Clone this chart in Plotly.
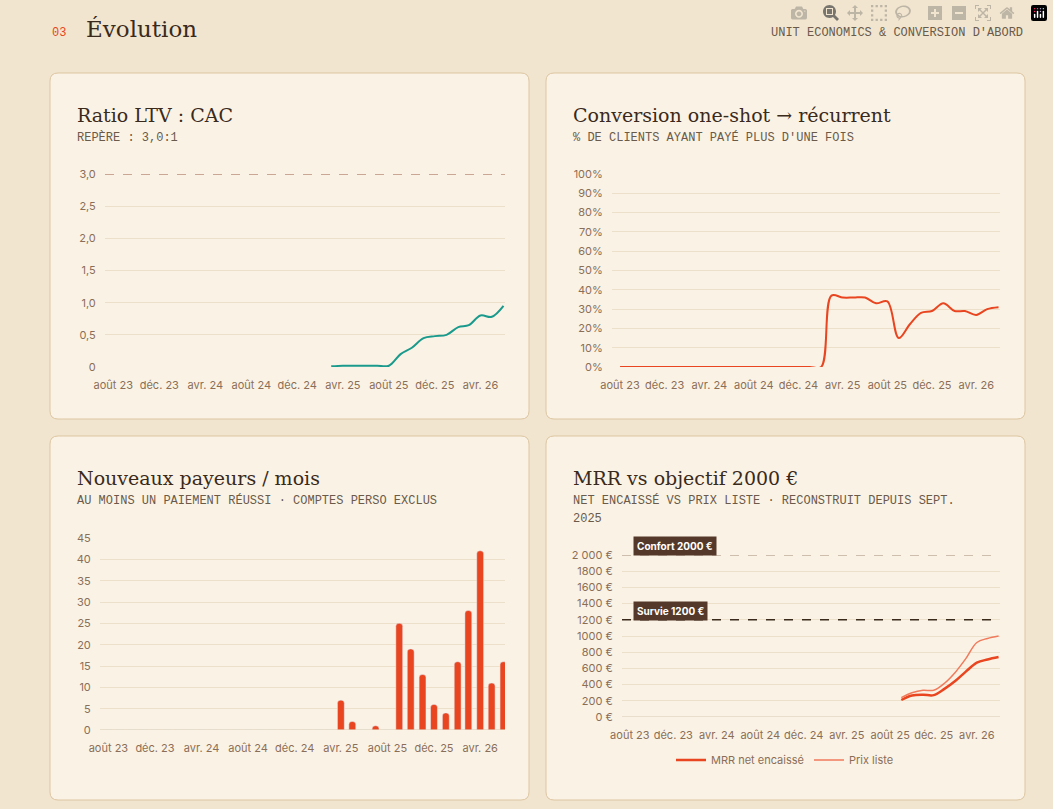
import plotly.graph_objects as go

W, H = 1053, 809

months = ["2023-08-01", "2023-09-01", "2023-10-01", "2023-11-01", "2023-12-01", "2024-01-01",
          "2024-02-01", "2024-03-01", "2024-04-01", "2024-05-01", "2024-06-01", "2024-07-01",
          "2024-08-01", "2024-09-01", "2024-10-01", "2024-11-01", "2024-12-01", "2025-01-01",
          "2025-02-01", "2025-03-01", "2025-04-01", "2025-05-01", "2025-06-01", "2025-07-01",
          "2025-08-01", "2025-09-01", "2025-10-01", "2025-11-01", "2025-12-01", "2026-01-01",
          "2026-02-01", "2026-03-01", "2026-04-01", "2026-05-01", "2026-06-01"]
tick_vals = ["2023-08-01", "2023-12-01", "2024-04-01", "2024-08-01", "2024-12-01",
             "2025-04-01", "2025-08-01", "2025-12-01", "2026-04-01"]
tick_text = ["août 23", "déc. 23", "avr. 24", "août 24", "déc. 24",
             "avr. 25", "août 25", "déc. 25", "avr. 26"]

ltv_months = months[19:]
ltv_ratio = [0.01, 0.02, 0.02, 0.02, 0.02, 0.02, 0.2, 0.3, 0.45, 0.48, 0.5, 0.62, 0.65, 0.8, 0.78, 0.95]

conv_rate = [0] * 18 + [0, 37, 36, 36, 36, 33, 34, 15, 22, 28, 29, 33, 29, 29, 27, 30, 31]

new_payers = [0] * 20 + [7, 2, 0, 1, 0, 25, 19, 13, 6, 4, 16, 28, 42, 11, 16]

mrr_months = months[25:]
mrr_net = [210, 265, 275, 270, 350, 450, 560, 670, 710, 740]
mrr_list = [240, 300, 330, 330, 420, 560, 720, 920, 970, 1000]

BG = "#f1e5cf"
CARD = "#faf3e5"
BORDER = "#dcc5a1"
DARK = "#3a2a1c"
TXT = "#8a6e58"
SUB = "#6a5a4a"
GRID = "#ece0cb"
RED = "#e84520"
SALMON = "#f07a5c"
TEAL = "#1a9a8c"
SERIF = "DejaVu Serif, serif"
MONO = "Liberation Mono, DejaVu Sans Mono, monospace"
SANS = "Inter, Noto Sans, sans-serif"


def px(x):
    return x / W


def py(y):
    return 1 - y / H


def card_path(x0, y0, x1, y1, r=8):
    a0, b0, a1, b1 = px(x0), py(y0), px(x1), py(y1)
    rx, ry = r / W, r / H
    return (f"M{a0 + rx},{b0} L{a1 - rx},{b0} Q{a1},{b0} {a1},{b0 - ry} "
            f"L{a1},{b1 + ry} Q{a1},{b1} {a1 - rx},{b1} L{a0 + rx},{b1} "
            f"Q{a0},{b1} {a0},{b1 + ry} L{a0},{b0 - ry} Q{a0},{b0} {a0 + rx},{b0} Z")


fig = go.Figure()

fig.add_trace(go.Scatter(x=ltv_months, y=ltv_ratio, mode="lines", line=dict(color=TEAL, width=2, shape="spline"),
                         xaxis="x", yaxis="y", showlegend=False))
fig.add_trace(go.Scatter(x=months, y=conv_rate, mode="lines", line=dict(color=RED, width=2, shape="spline"),
                         xaxis="x2", yaxis="y2", showlegend=False))
fig.add_trace(go.Bar(x=months, y=new_payers, marker=dict(color=RED, cornerradius=3), width=18 * 24 * 3600 * 1000,
                     xaxis="x3", yaxis="y3", showlegend=False))
fig.add_trace(go.Scatter(x=mrr_months, y=mrr_net, mode="lines", name="MRR net encaissé",
                         line=dict(color=RED, width=2.5, shape="spline"), xaxis="x4", yaxis="y4"))
fig.add_trace(go.Scatter(x=mrr_months, y=mrr_list, mode="lines", name="Prix liste",
                         line=dict(color=SALMON, width=1.5, shape="spline"), xaxis="x4", yaxis="y4"))

xr = ["2023-07-10", "2026-06-05"]
xbase = dict(type="date", range=xr, tickvals=tick_vals, ticktext=tick_text, showgrid=False, automargin=False,
             tickfont=dict(family=SANS, size=11, color=TXT), ticks="outside", ticklen=8,
             tickcolor="rgba(0,0,0,0)", zeroline=False)
ybase = dict(gridcolor=GRID, tickfont=dict(family=SANS, size=11, color=TXT), zeroline=False, automargin=False,
             ticks="outside", ticklen=6, tickcolor="rgba(0,0,0,0)")

panels = {
    "": ((105, 505), (174, 367)),
    "2": ((612, 1000), (174, 367)),
    "3": ((100, 505), (538, 730)),
    "4": ((622, 1000), (555, 717)),
}
layout_axes = {}
for k, ((x0, x1), (y0, y1)) in panels.items():
    layout_axes["xaxis" + k] = dict(xbase, domain=[px(x0), px(x1)], anchor="y" + k)
    layout_axes["yaxis" + k] = dict(ybase, domain=[py(y1), py(y0)], anchor="x" + k)

layout_axes["yaxis"].update(range=[0, 3.0], tickvals=[0, 0.5, 1, 1.5, 2, 2.5, 3],
                            ticktext=["0", "0,5", "1,0", "1,5", "2,0", "2,5", "3,0"])
layout_axes["yaxis2"].update(range=[0, 100], dtick=10, ticksuffix="%")
layout_axes["yaxis3"].update(range=[0, 45], dtick=5)
layout_axes["yaxis4"].update(range=[0, 2000], tickvals=list(range(0, 2001, 200)),
                             ticktext=["2 000 €" if v == 2000 else f"{v} €" for v in range(0, 2001, 200)])

shapes = [dict(type="path", xref="paper", yref="paper", path=card_path(*c), fillcolor=CARD,
               line=dict(color=BORDER, width=1), layer="below")
          for c in [(50, 73, 529, 419), (546, 73, 1025, 419), (50, 436, 529, 800), (546, 436, 1025, 800)]]
shapes += [
    dict(type="line", xref="x domain", yref="y", x0=0, x1=1, y0=3, y1=3, line=dict(color="#9a5a45", width=1.2, dash="dash")),
    dict(type="line", xref="x4 domain", yref="y4", x0=0, x1=1, y0=2000, y1=2000, line=dict(color="#a08a78", width=1.2, dash="dash")),
    dict(type="line", xref="x4 domain", yref="y4", x0=0, x1=1, y0=1200, y1=1200, line=dict(color=DARK, width=1.4, dash="dash")),
    dict(type="line", xref="x3 domain", yref="y3", x0=0, x1=1, y0=0, y1=0, line=dict(color="#d8c8b0", width=1)),
    dict(type="line", xref="x4 domain", yref="y4", x0=0, x1=1, y0=0, y1=0, line=dict(color="#d8c8b0", width=1)),
]


def text(x, y, s, font, size, color, xanchor="left", yanchor="middle"):
    return dict(x=px(x), y=py(y), xref="paper", yref="paper", text=s, showarrow=False,
                xanchor=xanchor, yanchor=yanchor, font=dict(family=font, size=size, color=color))


annotations = [
    text(50, 33, "03", MONO, 12, RED),
    text(84, 29, "Évolution", SERIF, 23, DARK),
    text(1025, 33, "UNIT ECONOMICS & CONVERSION D'ABORD", MONO, 12, SUB, xanchor="right"),
    text(75, 115, "Ratio LTV : CAC", SERIF, 19, DARK),
    text(75, 137, "REPÈRE : 3,0:1", MONO, 12, SUB),
    text(571, 115, "Conversion one-shot → récurrent", SERIF, 19, DARK),
    text(571, 137, "% DE CLIENTS AYANT PAYÉ PLUS D'UNE FOIS", MONO, 12, SUB),
    text(75, 478, "Nouveaux payeurs / mois", SERIF, 19, DARK),
    text(75, 500, "AU MOINS UN PAIEMENT RÉUSSI · COMPTES PERSO EXCLUS", MONO, 12, SUB),
    text(571, 478, "MRR vs objectif 2000 €", SERIF, 19, DARK),
    text(571, 500, "NET ENCAISSÉ VS PRIX LISTE · RECONSTRUIT DEPUIS SEPT.", MONO, 12, SUB),
    text(571, 519, "2025", MONO, 12, SUB),
]
for yv, label in [(2000, "Confort 2000 €"), (1200, "Survie 1200 €")]:
    annotations.append(dict(x=0.03, y=yv, xref="x4 domain", yref="y4", yshift=9, text=f"<b>{label}</b>",
                            showarrow=False, xanchor="left", bgcolor="#54392a", borderpad=3,
                            font=dict(family=SANS, size=10, color="white")))

fig.update_layout(
    width=W, height=H, autosize=False, paper_bgcolor=BG, plot_bgcolor="rgba(0,0,0,0)",
    margin=dict(l=0, r=0, t=0, b=0, autoexpand=False), shapes=shapes, annotations=annotations,
    legend=dict(orientation="h", x=px(785), y=py(760), xanchor="center", yanchor="middle",
                font=dict(family=SANS, size=11, color=TXT), bgcolor="rgba(0,0,0,0)"),
    **layout_axes,
)

fig.write_html("out.html")
with open("out.html", encoding="utf-8") as f:
    page = f.read()
page = page.replace("<body>", '<body style="margin:0;background:#f1e5cf">', 1)
with open("out.html", "w", encoding="utf-8") as f:
    f.write(page)
